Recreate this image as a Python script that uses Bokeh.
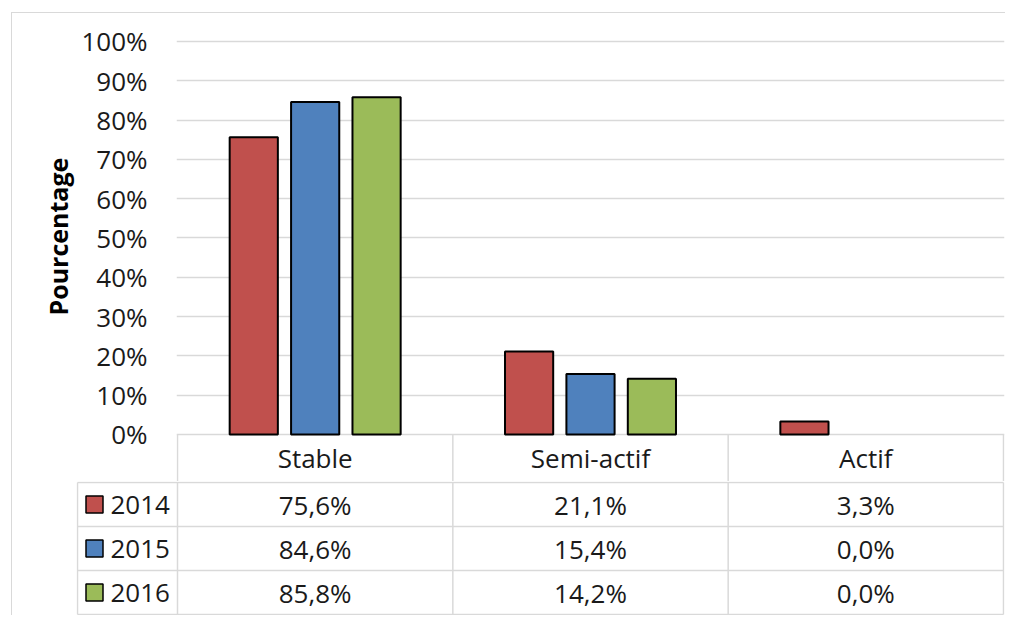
from bokeh.plotting import figure
from bokeh.models import ColumnDataSource, Range1d, FixedTicker, NumeralTickFormatter, Title
from bokeh.layouts import column
from bokeh.core.properties import value
from bokeh.embed import file_html
from bokeh.resources import INLINE

# ---------------- data ----------------
categories = ["Stable", "Semi-actif", "Actif"]
years = ["2014", "2015", "2016"]
v2014 = [0.756, 0.211, 0.033]
v2015 = [0.846, 0.154, 0.0]
v2016 = [0.858, 0.142, 0.0]
colors = ["#C0504D", "#4F81BD", "#9BBB59"]
y_ticks = [0.0, 0.1, 0.2, 0.3, 0.4, 0.5, 0.6, 0.7, 0.8, 0.9, 1.0]
y_label = "Pourcentage"

series = [v2014, v2015, v2016]

FONT = "Open Sans"
TXT = "#1a1a1a"
GRID = "#d9d9d9"
FS = "26px"

# ---------------- layout constants ----------------
W = 993
cw = 826 / 3.0          # px per category
pad = 1 / cw
unit_y = 393.0          # px per 100 %
hdr_h = 47 / unit_y     # header row height in y units
offsets = [-0.223, 0.0, 0.223]
bar_w = 0.175
n = len(categories)

# ---------------- chart (with header row of the table) ----------------
p1 = figure(x_range=Range1d(-pad, n + pad),
            y_range=Range1d(-hdr_h, 1.01),
            width=W, height=468,
            min_border_left=164, min_border_right=1,
            min_border_top=24, min_border_bottom=0,
            output_backend="svg", toolbar_location=None)
p1.title.visible = False
p1.outline_line_color = None

for vals, col, off in zip(series, colors, offsets):
    xs = [i + 0.5 + off for i, v in enumerate(vals) if v > 0]
    tops = [v for v in vals if v > 0]
    src = ColumnDataSource(dict(x=xs, top=tops))
    p1.vbar(x="x", top="top", bottom=0, width=bar_w, source=src,
            fill_color=col, line_color="black", line_width=2)

p1.xaxis.visible = False
p1.xgrid.grid_line_color = None
p1.ygrid.grid_line_color = GRID
p1.ygrid.grid_line_width = 1.5
p1.yaxis.ticker = FixedTicker(ticks=y_ticks)
p1.ygrid.ticker = FixedTicker(ticks=y_ticks)
p1.yaxis.formatter = NumeralTickFormatter(format="0%")
p1.yaxis.axis_line_color = None
p1.yaxis.major_tick_line_color = None
p1.yaxis.minor_tick_line_color = None
p1.yaxis.major_tick_out = 0
p1.yaxis.major_tick_in = 0
p1.yaxis.major_label_standoff = 29
p1.yaxis.major_label_text_font = FONT
p1.yaxis.major_label_text_font_size = FS
p1.yaxis.major_label_text_color = TXT

p1.add_layout(Title(text=y_label, align="left", offset=166, standoff=8,
                    text_font=FONT, text_font_size="25px", text_font_style="bold",
                    text_color="black"), "left")

# header row cells
p1.segment(x0=list(range(n + 1)), y0=[-hdr_h] * (n + 1),
           x1=list(range(n + 1)), y1=[0] * (n + 1),
           line_color=GRID, line_width=1.5)
p1.text(x=[i + 0.5 for i in range(n)], y=[-hdr_h / 2] * n, text=categories,
        text_align="center", text_baseline="middle",
        text_font=value(FONT), text_font_size=FS, text_color=TXT)

# ---------------- data rows of the table ----------------
L = 100 / cw
rp = 1 / 44.0
nr = len(years)
p2 = figure(x_range=Range1d(-L - pad, n + pad),
            y_range=Range1d(nr + rp, -rp),
            width=W, height=134,
            min_border_left=64, min_border_right=1,
            min_border_top=0, min_border_bottom=0,
            x_axis_type=None, y_axis_type=None,
            output_backend="svg", toolbar_location=None)
p2.title.visible = False
p2.outline_line_color = None
p2.xgrid.grid_line_color = None
p2.ygrid.grid_line_color = None

for p in (p1, p2):
    if "frame_align" in p.properties():
        p.frame_align = False

x0s, y0s, x1s, y1s = [], [], [], []
for r in range(nr + 1):
    x0s.append(-L); y0s.append(r); x1s.append(n); y1s.append(r)
for c in [-L] + list(range(n + 1)):
    x0s.append(c); y0s.append(0); x1s.append(c); y1s.append(nr)
p2.segment(x0=x0s, y0=y0s, x1=x1s, y1=y1s, line_color=GRID, line_width=1.5)


def fmt(v):
    return ("%.1f" % (v * 100)).replace(".", ",") + "%"


vx, vy, vt = [], [], []
for r, vals in enumerate(series):
    for i, v in enumerate(vals):
        vx.append(i + 0.5); vy.append(r + 0.5); vt.append(fmt(v))
p2.text(x=vx, y=vy, text=vt, text_align="center", text_baseline="middle",
        text_font=value(FONT), text_font_size=FS, text_color=TXT)

ry = [r + 0.5 for r in range(nr)]
p2.rect(x=[-L + 17 / cw] * nr, y=ry, width=17, height=17,
        width_units="screen", height_units="screen",
        fill_color=colors, line_color="black", line_width=1.5)
p2.text(x=[-L + 33 / cw] * nr, y=ry, text=years, text_align="left",
        text_baseline="middle", text_font=value(FONT), text_font_size=FS, text_color=TXT)

layout = column(p1, p2, spacing=0, margin=(12, 0, 0, 11),
                styles={"border-left": "1px solid #d9d9d9", "border-top": "1px solid #d9d9d9"})

open("out.html", "w").write(file_html(layout, INLINE))
